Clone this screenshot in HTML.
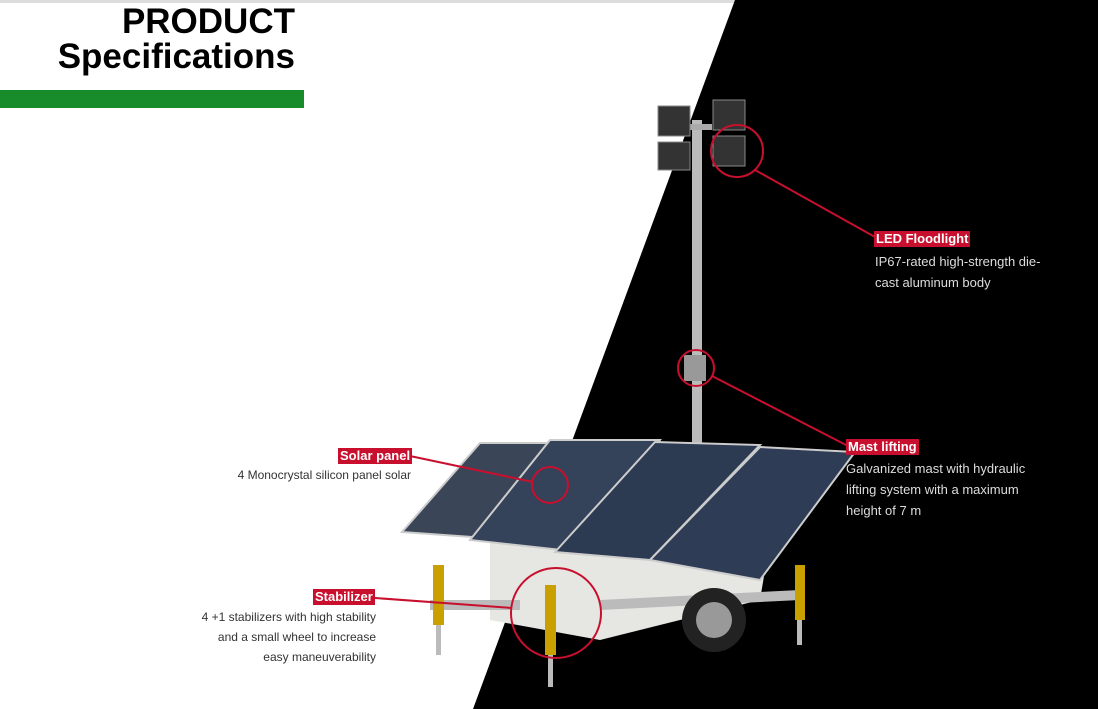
<!DOCTYPE html>
<html><head><style>
body{margin:0;width:1098px;height:709px;overflow:hidden;background:#fff;font-family:"Liberation Sans",sans-serif;position:relative}
.t{position:absolute;font-weight:bold;color:#000;text-align:right;right:803px;font-size:35px;line-height:36px}
.lab{position:absolute;background:#c8102e;color:#fff;font-weight:bold;font-size:13px;padding:0 2px;line-height:16px}
.tx{position:absolute;font-size:13px;line-height:21px;white-space:nowrap}
</style></head><body>
<div style="position:absolute;left:0;top:0;width:1098px;height:3px;background:#ddd"></div>
<svg width="1098" height="709" style="position:absolute;left:0;top:0">
<polygon points="735,0 1098,0 1098,709 473,709" fill="#000"/>
<rect x="692" y="120" width="10" height="325" fill="#bbb"/>
<rect x="684" y="355" width="22" height="26" fill="#999"/>
<rect x="662" y="124" width="50" height="6" fill="#aaa"/>
<rect x="658" y="106" width="32" height="30" fill="#333" stroke="#888"/>
<rect x="713" y="100" width="32" height="30" fill="#333" stroke="#888"/>
<rect x="658" y="142" width="32" height="28" fill="#333" stroke="#888"/>
<rect x="713" y="136" width="32" height="30" fill="#333" stroke="#888"/>
<polygon points="490,540 770,540 760,600 600,640 490,620" fill="#e6e6e2"/>
<polygon points="430,600 520,600 520,610 430,610" fill="#bbb"/>
<polygon points="600,600 800,590 800,600 600,610" fill="#bbb"/>
<circle cx="714" cy="620" r="32" fill="#222"/><circle cx="714" cy="620" r="18" fill="#999"/>
<rect x="433" y="565" width="11" height="60" fill="#c9a000"/><rect x="436" y="625" width="5" height="30" fill="#bbb"/>
<rect x="545" y="585" width="11" height="70" fill="#c9a000"/><rect x="548" y="655" width="5" height="32" fill="#bbb"/>
<rect x="795" y="565" width="10" height="55" fill="#c9a000"/><rect x="797" y="620" width="5" height="25" fill="#bbb"/>
<polygon points="402,532 480,443 590,443 515,540" fill="#3a4658" stroke="#ccc" stroke-width="2"/>
<polygon points="470,540 550,440 660,440 580,552" fill="#34425a" stroke="#ccc" stroke-width="2"/>
<polygon points="555,552 655,442 760,445 650,560" fill="#2c3a52" stroke="#ccc" stroke-width="2"/>
<polygon points="650,560 760,447 855,452 760,580" fill="#2f3c55" stroke="#ccc" stroke-width="2"/>
<g stroke="#c8102e" stroke-width="2" fill="none">
<circle cx="737" cy="151" r="26"/><line x1="755" y1="170" x2="875" y2="237"/>
<circle cx="696" cy="368" r="18"/><line x1="712" y1="376" x2="848" y2="446"/>
<circle cx="550" cy="485" r="18"/><line x1="533" y1="482" x2="410" y2="456"/>
<circle cx="556" cy="613" r="45"/><line x1="512" y1="608" x2="375" y2="598"/>
</g>
</svg>
<div class="t" style="top:4px">PRODUCT</div>
<div class="t" style="top:39px">Specifications</div>
<div style="position:absolute;left:0;top:90px;width:304px;height:18px;background:#188b2b"></div>
<div class="lab" style="left:874px;top:231px">LED Floodlight</div>
<div class="tx" style="left:875px;top:251px;color:#ddd">IP67-rated high-strength die-<br>cast aluminum body</div>
<div class="lab" style="left:846px;top:439px">Mast lifting</div>
<div class="tx" style="left:846px;top:458px;color:#ddd">Galvanized mast with hydraulic<br>lifting system with a maximum<br>height of 7 m</div>
<div class="lab" style="left:338px;top:448px">Solar panel</div>
<div class="tx" style="right:687px;top:465px;text-align:right;color:#333;font-size:12px">4 Monocrystal silicon panel solar</div>
<div class="lab" style="left:313px;top:589px">Stabilizer</div>
<div class="tx" style="right:722px;top:607px;text-align:right;color:#333;font-size:12px;line-height:20px">4 +1 stabilizers with high stability<br>and a small wheel to increase<br>easy maneuverability</div>
</body></html>
